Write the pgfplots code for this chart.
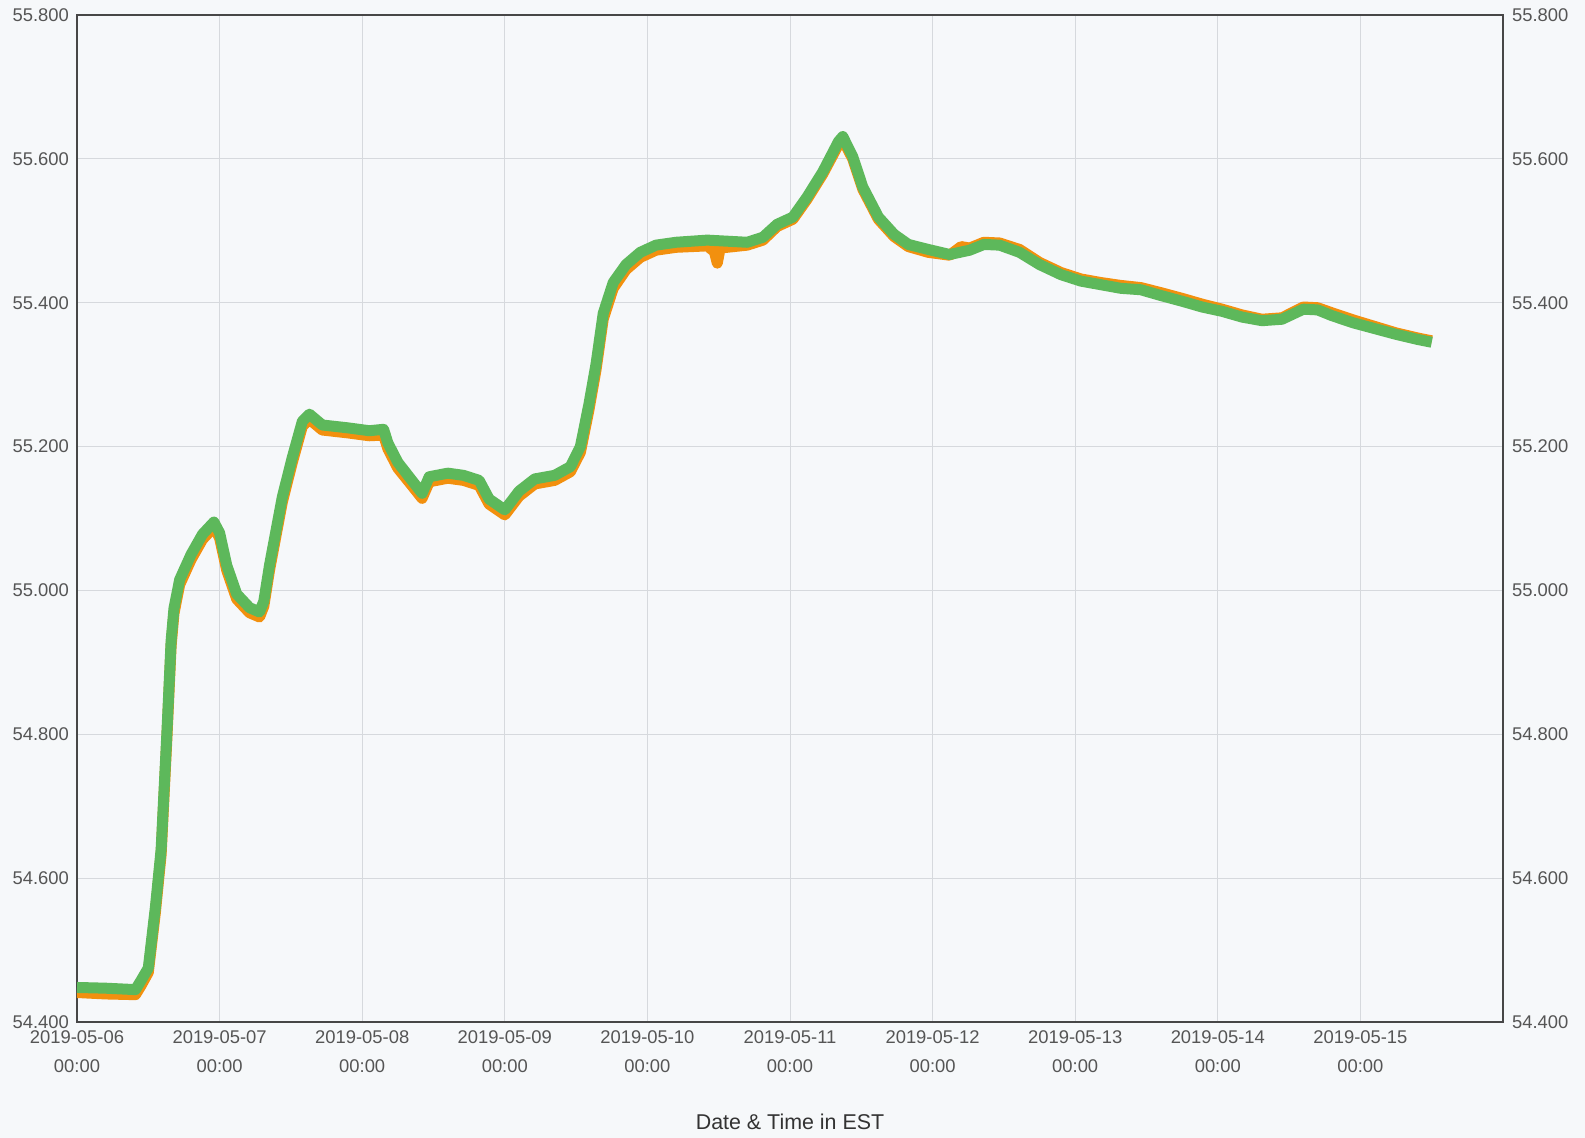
\documentclass[border=0pt]{standalone}
\usepackage{fontspec}
\setmainfont{Liberation Sans}
\usepackage{pgfplots}
\usepackage{pgfplotstable}
\pgfplotsset{compat=1.18}
\usetikzlibrary{backgrounds}
\definecolor{bg}{HTML}{F6F8FA}
\definecolor{gridc}{HTML}{D6D9DD}
\definecolor{ticktxt}{HTML}{555555}
\definecolor{grn}{HTML}{5DB85B}
\definecolor{org}{HTML}{F2900E}

\pgfplotstableread{
x y
0.00 54.448
0.20 54.447
0.41 54.445
0.45 54.458
0.50 54.475
0.55 54.56
0.59 54.64
0.63 54.80
0.66 54.93
0.68 54.975
0.72 55.015
0.80 55.050
0.88 55.078
0.96 55.095
1.00 55.080
1.05 55.035
1.12 54.995
1.21 54.976
1.28 54.970
1.31 54.985
1.35 55.035
1.44 55.130
1.51 55.185
1.58 55.235
1.63 55.245
1.72 55.230
1.90 55.226
2.05 55.222
2.15 55.224
2.18 55.205
2.25 55.178
2.36 55.150
2.42 55.135
2.47 55.158
2.60 55.163
2.71 55.160
2.82 55.153
2.89 55.127
3.00 55.112
3.10 55.138
3.21 55.155
3.35 55.160
3.46 55.172
3.53 55.200
3.59 55.259
3.64 55.315
3.69 55.385
3.76 55.428
3.85 55.453
3.95 55.470
4.06 55.480
4.20 55.484
4.42 55.487
4.70 55.484
4.81 55.491
4.91 55.509
5.02 55.519
5.12 55.547
5.23 55.582
5.34 55.624
5.37 55.631
5.44 55.603
5.51 55.561
5.62 55.519
5.73 55.495
5.83 55.481
5.97 55.474
6.12 55.467
6.26 55.473
6.36 55.481
6.47 55.480
6.61 55.470
6.75 55.453
6.90 55.439
7.04 55.430
7.18 55.425
7.32 55.420
7.46 55.418
7.60 55.410
7.75 55.402
7.89 55.394
8.03 55.388
8.17 55.380
8.31 55.375
8.45 55.377
8.60 55.391
8.70 55.390
8.80 55.382
8.95 55.372
9.10 55.364
9.25 55.356
9.40 55.349
9.50 55.345
}\greentab

\pgfplotstableread{
x y
0.00 54.441
0.20 54.439
0.41 54.438
0.45 54.451
0.50 54.469
0.55 54.553
0.59 54.633
0.63 54.793
0.66 54.923
0.68 54.968
0.72 55.008
0.80 55.043
0.88 55.071
0.96 55.088
1.00 55.073
1.05 55.028
1.12 54.988
1.21 54.969
1.28 54.963
1.31 54.978
1.35 55.028
1.44 55.123
1.51 55.178
1.58 55.228
1.63 55.238
1.72 55.223
1.90 55.219
2.05 55.215
2.15 55.216
2.18 55.197
2.25 55.170
2.36 55.143
2.42 55.128
2.47 55.151
2.60 55.156
2.71 55.153
2.82 55.146
2.89 55.120
3.00 55.105
3.10 55.131
3.21 55.148
3.35 55.153
3.46 55.165
3.53 55.192
3.59 55.251
3.64 55.307
3.69 55.377
3.76 55.420
3.85 55.446
3.95 55.463
4.06 55.473
4.20 55.477
4.42 55.479
4.47 55.471
4.49 55.455
4.51 55.476
4.70 55.480
4.81 55.487
4.91 55.506
5.02 55.516
5.12 55.544
5.23 55.579
5.34 55.620
5.37 55.627
5.44 55.600
5.51 55.558
5.62 55.516
5.73 55.492
5.83 55.478
5.97 55.470
6.12 55.466
6.20 55.478
6.26 55.476
6.36 55.484
6.47 55.483
6.61 55.474
6.75 55.456
6.90 55.442
7.04 55.433
7.18 55.428
7.32 55.424
7.46 55.421
7.60 55.414
7.75 55.406
7.89 55.398
8.03 55.391
8.17 55.383
8.31 55.377
8.45 55.379
8.60 55.394
8.70 55.393
8.80 55.386
8.95 55.376
9.10 55.367
9.25 55.358
9.40 55.351
9.50 55.347
}\orangetab

\begin{document}
\begin{tikzpicture}
\pgfplotsset{
  common/.style={
    scale only axis, width=713pt, height=503.5pt,
    xmin=0, xmax=10, ymin=54.4, ymax=55.8,
    ytick={54.4,54.6,54.8,55.0,55.2,55.4,55.6,55.8},
    /pgf/number format/assume math mode=true,
    yticklabel style={/pgf/number format/.cd, fixed, fixed zerofill, precision=3,
      /tikz/.cd, font=\fontsize{9.2}{11}\selectfont, text=ticktxt},
    major tick length=0pt,
  }
}
\begin{axis}[common,
  axis background/.style={fill=bg},
  xtick={0,1,2,3,4,5,6,7,8,9},
  xticklabels={2019-05-06\\00:00,2019-05-07\\00:00,2019-05-08\\00:00,2019-05-09\\00:00,2019-05-10\\00:00,2019-05-11\\00:00,2019-05-12\\00:00,2019-05-13\\00:00,2019-05-14\\00:00,2019-05-15\\00:00},
  xticklabel style={align=center, font=\fontsize{9.2}{14.25}\selectfont, text=ticktxt, yshift=-1pt},
  yticklabel style={xshift=-0.5pt},
  grid=major,
  major grid style={draw=gridc, line width=0.5pt},
  axis line style={draw=black!72, line width=1.3pt},
  xlabel={Date \& Time in EST},
  x label style={at={(axis description cs:0.5,0)}, anchor=center, yshift=-50pt,
    font=\fontsize{10.7}{12}\selectfont, text=black!80},
]
\addplot[org, line width=5.5pt, line join=round] table[x=x,y=y] {\orangetab};
\addplot[grn, line width=5.5pt, line join=round] table[x=x,y=y] {\greentab};
\end{axis}
\begin{axis}[common,
  hide x axis,
  axis y line*=right,
  y axis line style={draw=none},
  yticklabel pos=right,
  yticklabel style={xshift=1pt},
]
\end{axis}
\pgfresetboundingbox
\begin{scope}[on background layer]
\fill[bg] ([shift={(-38.5pt,-58pt)}]current axis.south west) rectangle ([shift={(41pt,7.5pt)}]current axis.north east);
\end{scope}
\end{tikzpicture}
\end{document}
